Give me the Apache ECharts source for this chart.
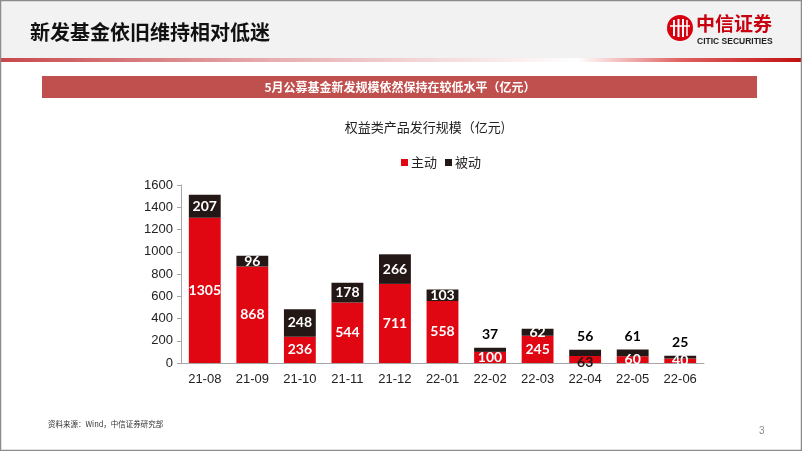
<!DOCTYPE html>
<html><head><meta charset="utf-8">
<script src="https://cdn.jsdelivr.net/npm/echarts@6/dist/echarts.min.js"></script>
<style>html,body{margin:0;padding:0;background:#fff}#c{width:802px;height:451px}</style>
</head><body><div id="c"></div>
<script>
const categories = ['21-08','21-09','21-10','21-11','21-12','22-01','22-02','22-03','22-04','22-05','22-06'];
const activeValues = [1305, 868, 236, 544, 711, 558, 100, 245, 63, 60, 40];
const passiveValues = [207, 96, 248, 178, 266, 103, 37, 62, 56, 61, 25];
const yTicks = [0,200,400,600,800,1000,1200,1400,1600];

const CJK = '"Noto Sans CJK SC", "Liberation Sans", sans-serif';
const NUM = 'Lato, "Open Sans", sans-serif';
const RED = '#e00612', DARK = '#231815';

const activeData = activeValues.map((v, i) => {
  const o = {value: v};
  if (v === 63) o.label = {color: DARK, position: 'bottom', distance: -8};
  return o;
});
const passiveData = passiveValues.map((v, i) => {
  const o = {value: v};
  if (v < 60 || v === 61) o.label = {color: '#000', position: 'top', distance: 6};
  return o;
});

const chart = echarts.init(document.getElementById('c'), null, {renderer: 'canvas'});
chart.setOption({
  animation: false,
  backgroundColor: '#fff',
  graphic: [
    {type: 'rect', shape: {x: 0, y: 0, width: 802, height: 58}, style: {fill: '#f2f2f2'}, z: -10},
    {type: 'rect', shape: {x: 0, y: 58, width: 802, height: 4},
      style: {fill: new echarts.graphic.LinearGradient(0, 0, 1, 0, [
        {offset: 0, color: '#c8484c'}, {offset: 0.35, color: '#e8b0b2'}, {offset: 0.72, color: '#ffffff'}, {offset: 0.85, color: '#e06060'}, {offset: 1, color: '#c01010'}])}, z: -9},
    {type: 'text', left: 30, top: 22, style: {text: '新发基金依旧维持相对低迷', fill: '#111', font: 'bold 20px ' + CJK}},
    // logo
    {type: 'circle', shape: {cx: 680, cy: 28, r: 13}, style: {fill: '#d7000f'}},
    {type: 'group', children: [
      {type: 'line', shape: {x1: 674, y1: 20, x2: 674, y2: 36}, style: {stroke: '#fff', lineWidth: 2}},
      {type: 'line', shape: {x1: 678.5, y1: 19, x2: 678.5, y2: 37}, style: {stroke: '#fff', lineWidth: 2}},
      {type: 'line', shape: {x1: 683, y1: 19, x2: 683, y2: 37}, style: {stroke: '#fff', lineWidth: 2}},
      {type: 'line', shape: {x1: 687, y1: 20, x2: 687, y2: 36}, style: {stroke: '#fff', lineWidth: 1.5}},
      {type: 'line', shape: {x1: 670, y1: 26, x2: 690, y2: 26}, style: {stroke: '#fff', lineWidth: 1.5}}
    ]},
    {type: 'text', left: 696, top: 14, style: {text: '中信证券', fill: '#c8000f', font: 'bold 19px "Noto Sans CJK SC", serif'}},
    {type: 'text', left: 697, top: 37, style: {text: 'CITIC SECURITIES', fill: '#222', font: 'bold 8.5px "Liberation Sans", sans-serif'}},
    // banner
    {type: 'rect', shape: {x: 42, y: 76, width: 715, height: 22}, style: {fill: '#c0504d'}},
    {type: 'text', x: 400, y: 87, style: {text: '5月公募基金新发规模依然保持在较低水平（亿元）', fill: '#fff', font: 'bold 12px ' + CJK, textAlign: 'center', textVerticalAlign: 'middle'}},
    // chart title
    {type: 'text', x: 425, y: 127, style: {text: '权益类产品发行规模（亿元)', fill: '#222', font: '13px ' + CJK, textAlign: 'center', textVerticalAlign: 'middle'}},
    // footer
    {type: 'text', left: 48, top: 420, style: {text: '资料来源：Wind，中信证券研究部', fill: '#333', font: '7.5px ' + CJK}},
    {type: 'text', left: 759, top: 426, style: {text: '3', fill: '#888', font: '10px "Liberation Sans", sans-serif'}},
    // border
    {type: 'rect', shape: {x: 0.5, y: 0.5, width: 801, height: 450}, style: {fill: 'none', stroke: '#8c8c8c', lineWidth: 1.5}, z: 100}
  ],
  legend: {
    left: 396, top: 151, itemWidth: 7, itemHeight: 7, itemGap: 8,
    icon: 'rect',
    textStyle: {fontFamily: CJK, fontSize: 13, color: '#222', padding: [0,0,0,-2]},
    data: ['主动', '被动']
  },
  grid: {left: 181, right: 98, top: 185, bottom: 88},
  xAxis: {
    type: 'category', data: categories,
    axisLine: {lineStyle: {color: '#a6a6a6'}},
    axisTick: {lineStyle: {color: '#a6a6a6'}, length: 4},
    axisLabel: {color: '#222', fontSize: 13, fontFamily: '"Liberation Sans", Arial, sans-serif', margin: 10}
  },
  yAxis: {
    type: 'value', min: yTicks[0], max: yTicks[yTicks.length - 1], interval: 200,
    axisLine: {show: true, lineStyle: {color: '#a6a6a6'}},
    axisTick: {show: true, lineStyle: {color: '#a6a6a6'}, length: 4},
    splitLine: {show: false},
    axisLabel: {color: '#222', fontSize: 13, fontFamily: '"Liberation Sans", Arial, sans-serif', margin: 8,
      formatter: v => String(v)}
  },
  series: [
    {name: '主动', type: 'bar', stack: 's', barWidth: '67%', data: activeData,
      itemStyle: {color: RED},
      label: {show: true, position: 'inside', color: '#fff', fontWeight: 'bold', fontSize: 14, fontFamily: NUM}},
    {name: '被动', type: 'bar', stack: 's', data: passiveData,
      itemStyle: {color: DARK},
      label: {show: true, position: 'inside', color: '#fff', fontWeight: 'bold', fontSize: 14, fontFamily: NUM}}
  ]
});
</script></body></html>
